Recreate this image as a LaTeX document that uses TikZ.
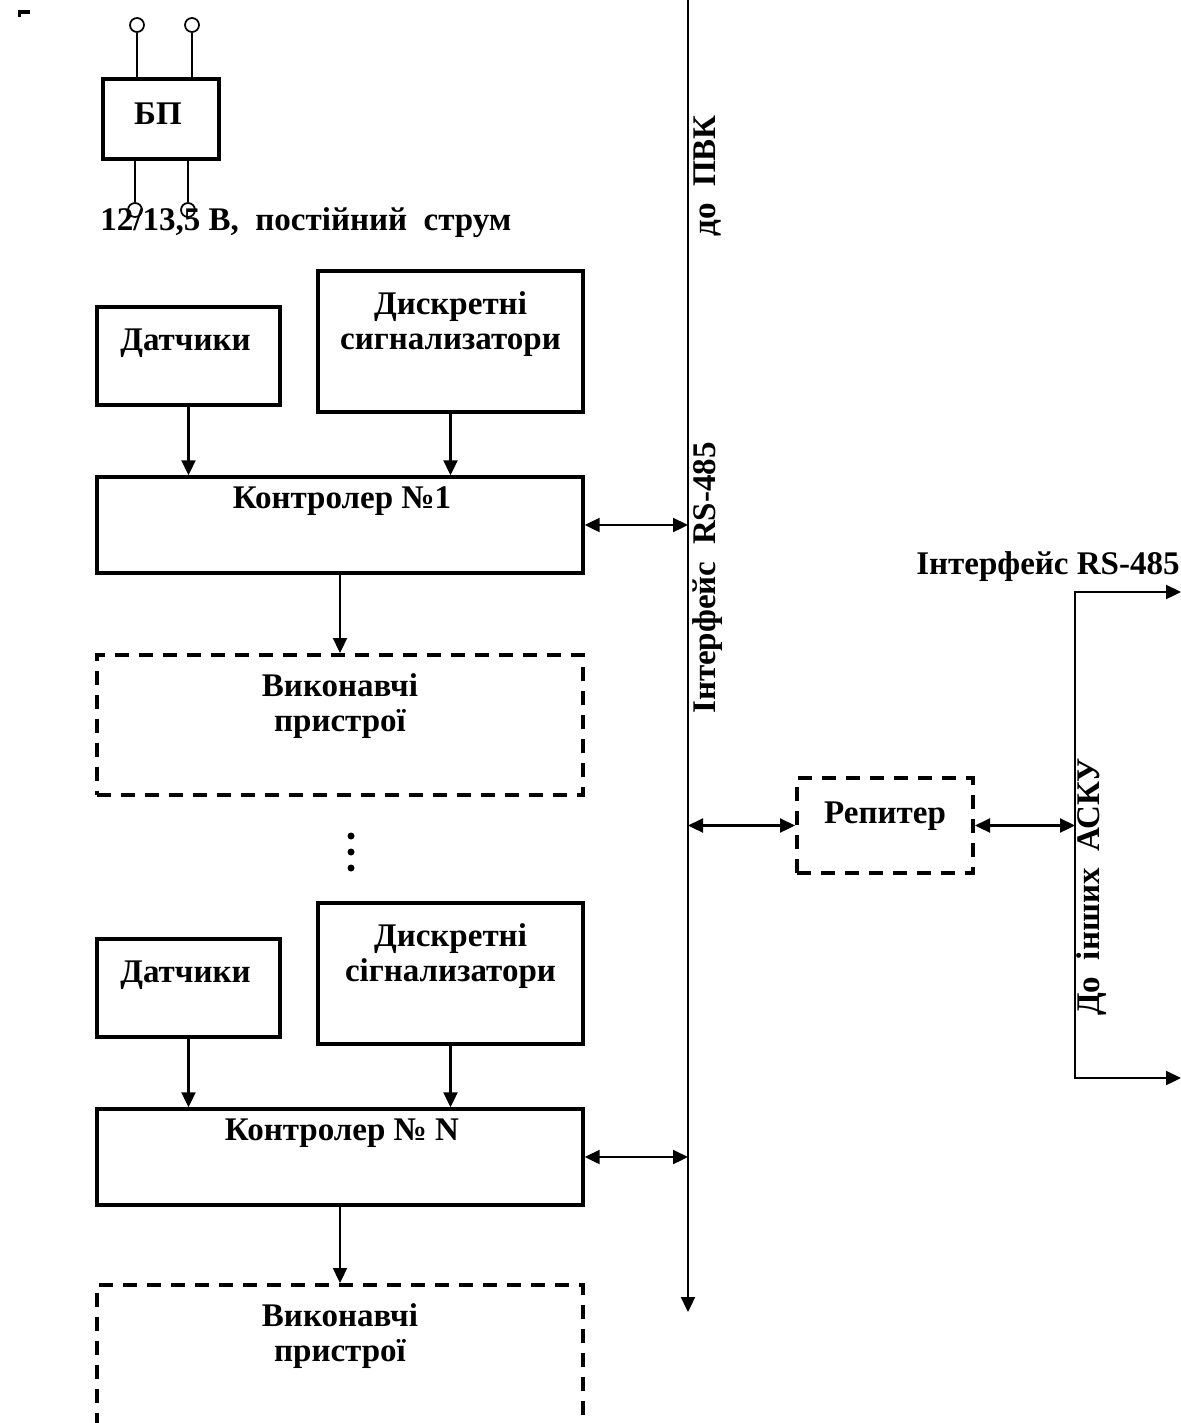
\documentclass[tikz,border=0pt]{standalone}
\usepackage{fontspec}
\setmainfont{Liberation Serif}
\usetikzlibrary{arrows.meta,positioning,calc}

\begin{document}
\begin{tikzpicture}[
  x=0.02cm, y=-0.02cm,
  font=\fontsize{18.8}{19.8}\selectfont\bfseries,
  blk/.style={rectangle, draw, line width=2pt, inner sep=0pt},
  dashblk/.style={rectangle, draw, line width=2.3pt, inner sep=0pt,
    dash pattern=on 0.28cm off 0.2cm},
  txt/.style={align=center, inner sep=0pt},
  term/.style={circle, draw, line width=1pt, minimum size=0.28cm, inner sep=0pt},
  wire/.style={line width=1.2pt},
  arr/.style={-{Triangle[length=3mm,width=2.8mm]}, line width=1.3pt},
  biarr/.style={{Triangle[length=3mm,width=2.8mm]}-{Triangle[length=3mm,width=2.8mm]}, line width=1.3pt}
]
\useasboundingbox (0,0) rectangle (1180,1423);

% power unit
\fill (18,10) rectangle (30,14);
\fill (18,10) rectangle (21,17);
\node[blk, minimum width=2.32cm, minimum height=1.6cm] (bp) at (161,119) {};
\node[txt] (bpl) at (158,114) {БП};
\node[term] (t1) at (137,25) {};
\node[term] (t2) at (192,25) {};
\node[term] (t3) at (135,210) {};
\node[term] (t4) at (188,210) {};
\draw[wire] (t1) -- (t1 |- bp.north);
\draw[wire] (t2) -- (t2 |- bp.north);
\draw[wire] (t3) -- (t3 |- bp.south);
\draw[wire] (t4) -- (t4 |- bp.south);
\node[txt, anchor=west] (volt) at (100,223) {12/13,5 В,\ \ постійний\ \ струм};

% first controller
\node[blk, minimum width=3.66cm, minimum height=1.96cm] (dat1) at (188.5,356) {};
\node[blk, minimum width=5.3cm, minimum height=2.82cm] (dsk1) at (450.5,341.5) {};
\node[blk, minimum width=9.72cm, minimum height=1.92cm] (ctl1) at (340,525) {};
\node[dashblk, minimum width=9.72cm, minimum height=2.8cm] (vyk1) at (340,725) {};
\node[txt] at ($(dat1.north)+(-3,38)$) {Датчики};
\node[txt] at ($(dsk1.north)+(0,55)$) {Дискретні\\сигнализатори};
\node[txt] at ($(ctl1.north)+(2,26)$) {Контролер №1};
\node[txt] at ($(vyk1.north)+(0,53)$) {Виконавчі\\пристрої};
\draw[arr] (dat1.south) -- (dat1.south |- ctl1.north);
\draw[arr] (dsk1.south) -- (dsk1.south |- ctl1.north);
\draw[arr] (ctl1.south) -- (vyk1.north);

\fill (351,836) circle (3.5);
\fill (351,852) circle (3.5);
\fill (351,868) circle (3.5);

% N-th controller
\node[blk, minimum width=3.66cm, minimum height=1.96cm] (dat2) at (188.5,988) {};
\node[blk, minimum width=5.3cm, minimum height=2.82cm] (dsk2) at (450.5,973.5) {};
\node[blk, minimum width=9.72cm, minimum height=1.92cm] (ctl2) at (340,1157) {};
\node[dashblk, minimum width=9.72cm, minimum height=2.96cm] (vyk2) at (340,1359) {};
\node[txt] at ($(dat2.north)+(-3,38)$) {Датчики};
\node[txt] at ($(dsk2.north)+(0,55)$) {Дискретні\\сігнализатори};
\node[txt] at ($(ctl2.north)+(2,26)$) {Контролер № N};
\node[txt] at ($(vyk2.north)+(0,53)$) {Виконавчі\\пристрої};
\draw[arr] (dat2.south) -- (dat2.south |- ctl2.north);
\draw[arr] (dsk2.south) -- (dsk2.south |- ctl2.north);
\draw[arr] (ctl2.south) -- (vyk2.north);

% bus
\coordinate (bustop) at (688,-15);
\coordinate (busbot) at (688,1312);
\draw[biarr] (bustop) -- (busbot);
\draw[biarr] (ctl1.east) -- (ctl1.east -| bustop);
\draw[biarr] (ctl2.east) -- (ctl2.east -| bustop);
\node[txt, rotate=90] (pvk) at (708,176) {до\ \ ПВК};
\node[txt, rotate=90] (ifc1) at (708,578) {Інтерфейс\ \ RS-485};

% repeater
\node[dashblk, minimum width=3.52cm, minimum height=1.9cm] (rep) at (885,825.5) {};
\node[txt] at ($(rep.north)+(0,40)$) {Репитер};
\coordinate (askt) at (1075,592);
\coordinate (askb) at (1075,1078);
\coordinate (outt) at (1181,592);
\coordinate (outb) at (1181,1078);
\draw[biarr] (rep.west -| bustop) -- (rep.west);
\draw[biarr] (rep.east) -- (rep.east -| askt);
\draw[biarr] (outt) -- (askt) -- (askb) -- (outb);
\node[txt, anchor=east] (ifc2) at (1180,567) {Інтерфейс RS-485};
\node[txt, rotate=90] (asku) at (1092,887) {До\ \ інших\ \ АСКУ};
\end{tikzpicture}
\end{document}
